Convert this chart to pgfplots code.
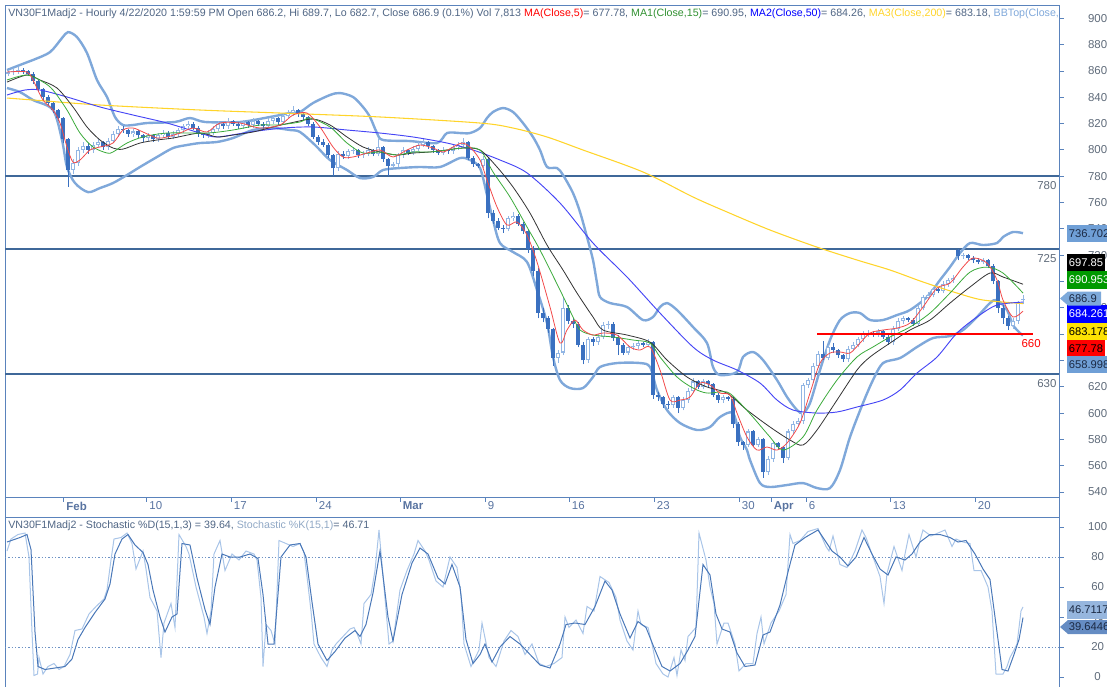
\documentclass[border=0pt]{standalone}
\usepackage{fontspec}
\setmainfont{Liberation Sans}
\usepackage{pgfplots}
\pgfplotsset{compat=1.18}
\usepackage{pgfplotstable}

\definecolor{frm}{HTML}{5A83BC}
\definecolor{hl}{HTML}{3F6899}
\definecolor{bb}{HTML}{7FA8DA}
\definecolor{dnc}{HTML}{3A70C0}
\definecolor{upc}{HTML}{92B6E4}
\definecolor{mared}{HTML}{F24B4B}
\definecolor{magreen}{HTML}{3AAA3A}
\definecolor{mablack}{HTML}{333333}
\definecolor{mablue}{HTML}{4545F5}
\definecolor{mayellow}{HTML}{FFD42A}
\definecolor{tgray}{HTML}{5F6B7A}
\definecolor{ttl}{HTML}{4F6584}
\definecolor{datec}{HTML}{5873A0}
\definecolor{stD}{HTML}{4A78B8}
\definecolor{stK}{HTML}{A9C5E8}
\definecolor{boxlb}{HTML}{6F9FD6}
\definecolor{boxtx}{HTML}{1C2A44}

\pgfplotstableread{
x o h l c
8 858 861 856 859
13 859 862 857 860
18 860 863 858 861
23 861 862 858 860
28 860 861 856 858
33 858 859 850 852
38 852 853 844 846
43 846 847 838 840
48 840 842 834 836
53 836 837 828 830
58 830 831 822 824
63 824 825 805 808
68 808 809 772 785
73 785 793 782 790
78 790 802 788 800
83 800 806 798 803
88 803 805 797 800
93 800 806 798 804
98 804 808 802 806
103 806 807 800 802
108 802 809 800 807
113 807 814 805 812
118 812 818 810 816
123 816 818 813 815
128 815 816 810 812
133 812 816 810 814
138 814 815 809 811
143 811 812 806 809
148 809 813 807 811
153 811 812 806 808
158 808 813 806 811
163 811 815 809 813
168 813 814 808 810
173 810 814 808 812
178 812 817 810 815
183 815 820 813 818
188 818 822 816 820
193 820 821 815 817
198 817 818 810 812
203 812 813 809 811
208 811 815 809 813
213 813 818 811 816
218 816 822 814 820
223 820 821 816 818
228 818 824 816 822
233 822 823 818 820
238 820 821 816 818
243 818 823 816 821
248 821 822 817 819
253 819 824 817 822
258 822 823 818 820
263 820 821 816 818
268 818 824 816 822
273 822 826 820 824
278 824 825 819 821
283 821 828 819 826
288 826 830 824 828
293 828 833 826 830
298 830 831 825 827
303 827 828 823 825
308 825 826 818 820
313 820 821 808 810
318 810 811 804 806
323 806 808 802 804
328 804 805 794 796
333 796 797 780 786
338 786 799 784 797
343 797 799 793 795
348 795 801 793 799
353 799 802 797 800
358 800 801 794 796
363 796 799 794 797
368 797 802 795 800
373 800 801 795 797
378 797 808 795 802
383 802 803 791 793
388 793 794 780 788
393 788 791 786 789
398 789 798 787 796
403 796 802 794 800
408 800 801 796 798
413 798 803 796 801
418 801 806 799 804
423 804 808 802 806
428 806 807 801 803
433 803 804 798 800
438 800 801 796 798
443 798 802 796 800
448 800 801 797 799
453 799 804 797 802
458 802 806 800 804
463 804 809 802 806
468 806 807 792 794
473 794 795 787 789
478 789 790 786 788
483 788 795 786 793
488 793 794 748 752
493 752 754 744 746
498 746 748 739 741
503 741 743 737 740
508 740 750 738 748
513 748 753 746 750
518 750 751 742 744
523 744 745 736 738
528 738 739 722 725
533 725 727 704 708
538 708 710 672 676
543 676 680 669 672
548 672 674 661 664
553 664 665 636 642
558 642 648 638 646
563 646 688 644 680
568 680 682 668 670
573 670 672 665 668
578 668 669 650 652
583 652 654 637 640
588 640 658 638 656
593 656 658 651 654
598 654 660 652 658
603 658 669 656 667
608 667 670 664 668
613 668 669 655 657
618 657 659 644 652
623 652 653 644 646
628 646 652 644 650
633 650 653 648 651
638 651 655 649 653
643 653 654 650 652
648 652 656 650 654
653 654 655 611 614
658 614 616 609 612
663 612 613 604 607
668 607 609 603 606
673 606 614 604 612
678 612 613 600 604
683 604 612 602 610
688 610 619 608 617
693 617 627 615 624
698 624 625 618 620
703 620 626 618 624
708 624 625 620 622
713 622 623 612 614
718 614 615 608 610
723 610 614 608 612
728 612 613 609 611
733 611 612 589 592
738 592 593 575 578
743 578 579 572 576
748 576 588 574 586
753 586 587 574 576
758 576 582 574 580
763 580 581 551 555
768 555 567 553 565
773 565 579 563 577
778 577 578 572 574
783 574 575 562 566
788 566 588 564 586
793 586 594 584 592
798 592 596 590 594
803 594 623 592 621
808 621 627 619 625
813 625 638 623 636
818 636 647 634 645
823 645 655 640 642
828 642 652 640 650
833 650 653 646 648
838 648 649 642 644
843 644 645 639 641
848 641 651 639 649
853 649 654 647 652
858 652 658 650 656
863 656 662 654 660
868 660 663 658 661
873 661 662 658 660
878 660 664 658 662
883 662 663 656 658
888 658 659 652 654
893 654 666 652 664
898 664 672 662 670
903 670 674 668 672
908 672 673 669 671
913 671 672 666 668
918 668 682 666 680
923 680 690 678 688
928 688 692 686 690
933 690 696 688 694
938 694 695 691 693
943 693 700 691 698
948 698 703 696 701
953 701 705 699 703
958 724 725 716 719
963 719 722 717 720
968 720 721 716 718
973 718 719 714 716
978 716 718 713 715
983 715 718 713 716
988 716 717 710 712
993 712 713 698 700
998 700 701 676 680
1003 680 682 668 672
1008 672 674 663 666
1013 666 672 664 670
1018 670 685 668 684
1023 686.2 689.7 682.7 686.9
}\candles

\pgfplotsset{
  cndl/.style={draw=none, mark=none, forget plot, restrict y to domain=0:2000,
    error bars/.cd, y dir=plus, y explicit, error mark=none},
}

\begin{document}
\begin{tikzpicture}
\path[use as bounding box] (0,0) rectangle (830.25pt,-514.5pt);

% ---------------- main price panel ----------------
\begin{axis}[
  at={(3.75pt,-3.75pt)}, anchor=north west,
  scale only axis, width=790.5pt, height=369pt,
  xmin=5, xmax=1059, ymin=536.2, ymax=910.1,
  axis line style={draw=frm, line width=0.7pt},
  tick align=outside, major tick length=3.5pt,
  ytick={540,560,...,900}, ytick pos=right,
  y tick style={draw=frm, line width=0.6pt},
  yticklabel style={font=\fontsize{8.6}{10}\selectfont, text=tgray, anchor=center, xshift=25.5pt},
  xtick={63.5,146.5,231,316,400,485,569,654,739,771,806,890,975},
  xticklabels={\textbf{Feb},10,17,24,\textbf{Mar},9,16,23,30,\textbf{Apr},6,13,20},
  xtick pos=bottom,
  x tick style={draw=frm, line width=0.6pt},
  xticklabel style={font=\fontsize{8.6}{10}\selectfont, text=datec, anchor=north west, inner sep=0pt, xshift=2pt, yshift=0pt},
  /pgf/number format/assume math mode=true,
  /pgf/number format/1000 sep={},
]
% horizontal reference lines
\addplot[hl, line width=1.5pt, forget plot] coordinates {(5,780) (1059,780)};
\addplot[hl, line width=1.5pt, forget plot] coordinates {(5,725) (1059,725)};
\addplot[hl, line width=1.5pt, forget plot] coordinates {(5,630) (1059,630)};

% Bollinger bands
\addplot[bb, line width=1.8pt, smooth, tension=0.5] coordinates {
(7,860.7)(25,866.0)(33,868.3)(50,874.3)(62,885.0)(68,889.5)(77,885.7)(87,873.6)(97,853.1)(107,840.2)(115,825.0)(123,818.9)(133,818.9)(147,820.4)(175,821.2)(190,824.2)(205,821.2)(240,821.2)(270,825.0)(290,828.0)(300,828.8)(313,835.6)(330,841.7)(340,843.2)(353,840.2)(363,832.6)(370,825.0)(377,812.8)(383,807.5)(410,806.7)(437,805.2)(447,812.8)(460,812.8)(470,812.8)(480,816.6)(487,824.2)(493,828.8)(503,831.8)(513,828.8)(523,820.4)(533,809.8)(540,799.9)(547,787.0)(557,786.2)(563,780.9)(573,767.2)(580,752.8)(587,733.8)(593,716.3)(597,698.8)(600,688.2)(610,683.6)(627,680.6)(643,670.7)(653,673.0)(660,680.6)(667,683.6)(677,678.3)(693,665.4)(707,653.2)(713,635.0)(720,628.9)(737,631.2)(743,642.6)(753,646.4)(763,640.3)(777,625.1)(787,612.2)(797,602.3)(803,600.0)(810,607.6)(820,632.7)(830,655.5)(840,670.7)(850,676.0)(860,676.0)(870,670.7)(883,670.7)(897,674.5)(910,678.3)(927,688.2)(940,701.1)(950,711.0)(960,721.6)(970,729.2)(983,727.7)(997,729.2)(1003,733.8)(1013,737.6)(1023,736.7)};
\addplot[bb, line width=1.8pt, smooth, tension=0.5] coordinates {
(7,847.0)(20,843.9)(33,837.9)(53,830.3)(62,807.5)(67,787.0)(75,774.8)(88,767.9)(100,771.0)(113,774.8)(127,780.9)(140,787.0)(157,794.6)(173,801.4)(187,803.7)(200,805.2)(217,806.0)(233,809.0)(253,815.1)(273,816.6)(290,815.1)(300,813.6)(315,803.7)(330,792.3)(347,784.7)(360,778.6)(373,779.4)(383,784.7)(400,786.2)(420,787.0)(440,787.0)(460,793.8)(470,792.3)(480,786.2)(487,765.7)(493,746.7)(500,729.2)(513,722.4)(527,714.8)(537,693.5)(547,668.4)(553,642.6)(560,625.1)(570,619.0)(583,619.0)(593,627.4)(600,635.0)(617,638.0)(640,638.0)(650,635.0)(657,617.5)(667,602.3)(680,592.4)(697,587.1)(710,589.4)(720,597.0)(733,600.0)(740,581.8)(747,571.9)(750,564.3)(760,546.8)(770,543.8)(787,545.3)(803,546.8)(817,543.0)(830,543.0)(840,556.7)(850,581.8)(863,607.6)(873,625.1)(883,638.0)(900,641.8)(917,650.2)(933,657.0)(950,658.5)(963,663.1)(977,673.0)(990,683.6)(997,685.9)(1007,678.3)(1013,666.9)(1020,660.8)(1023,659.0)};

% candlesticks: wicks, bodies, hollow centres
\addplot[cndl, error bar style={line width=0.75pt, draw=dnc}] table[x=x, y expr={\thisrow{l}+(\thisrow{c}<\thisrow{o}?0:5000)}, y error plus expr={\thisrow{h}-\thisrow{l}}] {\candles};
\addplot[cndl, error bar style={line width=0.75pt, draw=upc}] table[x=x, y expr={\thisrow{l}+(\thisrow{c}<\thisrow{o}?5000:0)}, y error plus expr={\thisrow{h}-\thisrow{l}}] {\candles};
\addplot[cndl, error bar style={line width=2.4pt, draw=dnc}] table[x=x, y expr={\thisrow{c}+(\thisrow{c}<\thisrow{o}?0:5000)}, y error plus expr={\thisrow{o}-\thisrow{c}}] {\candles};
\addplot[cndl, error bar style={line width=2.4pt, draw=upc}] table[x=x, y expr={\thisrow{o}+(\thisrow{c}<\thisrow{o}?5000:0)}, y error plus expr={\thisrow{c}-\thisrow{o}}] {\candles};
\addplot[cndl, error bar style={line width=0.9pt, draw=white}] table[x=x, y expr={\thisrow{o}+0.8+(\thisrow{c}<\thisrow{o}?5000:0)}, y error plus expr={max(\thisrow{c}-\thisrow{o}-1.6,0)}] {\candles};

% MA200
\addplot[mayellow, line width=0.8pt, smooth] coordinates {
(7,839.4)(33,837.9)(100,834.1)(200,830.3)(280,828.0)(380,825.0)(480,820.4)(513,816.6)(547,809.8)(583,799.9)(643,783.2)(693,764.2)(727,752.8)(770,739.1)(817,726.1)(857,716.3)(890,708.7)(923,699.6)(957,691.2)(983,685.9)(1023,683.2)};
% MA50
\addplot[mablue, line width=0.7pt, smooth] coordinates {
(7,841.7)(25,845.5)(40,845.5)(67,840.2)(100,832.6)(133,826.5)(167,820.4)(200,812.8)(217,809.8)(250,813.6)(283,816.6)(313,817.4)(347,815.1)(380,812.8)(413,809.8)(447,805.2)(473,799.9)(500,792.3)(527,782.5)(560,759.6)(593,729.2)(627,703.4)(660,676.0)(693,650.2)(713,640.3)(737,632.7)(760,622.8)(777,609.9)(793,602.3)(817,600.0)(837,600.8)(857,604.6)(883,609.9)(900,617.5)(917,630.4)(937,642.6)(957,660.8)(977,673.0)(997,682.1)(1023,684.3)};
% black (20)
\addplot[mablack, line width=0.6pt, smooth] coordinates {
(7,851.5)(27,856.9)(40,853.1)(57,847.0)(73,832.6)(87,817.4)(100,807.5)(113,801.4)(123,800.6)(140,805.2)(157,807.5)(173,809.0)(200,812.8)(217,809.8)(233,811.3)(253,813.6)(273,817.4)(290,820.4)(313,823.4)(330,818.9)(347,809.8)(363,802.2)(380,798.4)(397,796.1)(413,797.6)(430,798.4)(447,799.9)(463,801.4)(480,799.9)(497,787.0)(513,771.8)(530,752.0)(547,727.7)(563,708.7)(577,691.2)(593,673.0)(603,663.1)(627,659.3)(650,653.9)(667,640.3)(687,627.4)(707,619.8)(727,615.2)(747,602.3)(770,589.4)(790,579.5)(803,575.7)(817,587.1)(837,609.9)(857,632.7)(870,642.6)(890,653.2)(910,663.1)(930,670.7)(950,683.6)(970,695.8)(990,706.4)(1003,703.4)(1023,697.9)};
% MA15 green
\addplot[magreen, line width=0.6pt, smooth] coordinates {
(7,853.1)(27,856.9)(43,851.6)(53,845.5)(67,830.3)(80,812.8)(93,802.2)(107,797.6)(113,798.4)(127,805.2)(143,809.8)(167,812.8)(207,812.8)(233,815.1)(260,818.9)(277,818.9)(300,821.2)(310,824.2)(330,817.4)(347,805.2)(363,797.6)(380,798.4)(397,796.1)(413,798.4)(430,798.4)(447,799.9)(463,801.4)(480,799.9)(493,783.2)(510,764.2)(527,741.4)(540,723.9)(560,693.5)(573,673.0)(580,663.1)(593,659.3)(613,657.8)(633,655.5)(650,653.2)(660,642.6)(677,627.4)(693,619.0)(707,615.2)(727,616.0)(740,607.6)(753,596.9)(770,581.8)(783,571.9)(803,581.8)(817,602.3)(837,625.1)(857,642.6)(873,650.2)(890,657.8)(910,665.4)(930,676.0)(950,691.2)(970,707.1)(987,710.9)(1003,706.4)(1023,691.2)};
% MA5 red
\addplot[mared, line width=0.6pt, smooth] coordinates {
(7,859.2)(27,859.2)(33,853.1)(43,837.9)(53,830.3)(60,820.4)(67,802.2)(73,790.7)(80,792.3)(90,799.9)(100,802.2)(113,805.2)(123,815.1)(133,816.6)(143,813.6)(157,809.0)(167,809.8)(180,812.8)(193,816.6)(207,813.6)(220,820.4)(240,820.4)(260,816.6)(280,818.9)(293,826.5)(307,828.0)(320,817.4)(333,802.2)(343,794.6)(353,794.6)(367,797.6)(380,799.9)(393,794.6)(407,799.9)(420,803.7)(433,801.4)(443,798.4)(453,802.2)(462,805.2)(470,802.2)(480,792.3)(487,777.1)(497,756.6)(507,742.9)(517,745.2)(527,735.3)(537,714.8)(550,680.6)(560,653.2)(567,663.1)(575,670.7)(583,663.1)(593,659.3)(603,660.8)(617,659.3)(630,650.2)(640,647.9)(650,650.2)(660,632.7)(670,609.9)(680,609.9)(690,612.2)(700,622.8)(710,621.3)(720,615.2)(730,613.7)(737,600.0)(747,581.8)(757,571.9)(767,574.2)(777,571.9)(787,577.2)(800,592.4)(810,615.2)(820,638.0)(830,645.6)(840,646.4)(850,645.6)(860,653.2)(870,660.8)(883,663.1)(897,664.6)(910,668.4)(923,680.6)(937,695.0)(950,698.8)(963,711.0)(973,717.8)(987,714.0)(997,701.1)(1003,685.9)(1013,673.0)(1023,677.5)};

% support line 660
\addplot[red, line width=1.4pt] coordinates {(817,660) (1033,660)};

\node[anchor=north east, inner sep=1pt, font=\fontsize{8.6}{10}\selectfont, text=tgray] at (axis cs:1058,777) {780};
\node[anchor=north east, inner sep=1pt, font=\fontsize{8.6}{10}\selectfont, text=tgray] at (axis cs:1058,722) {725};
\node[anchor=north east, inner sep=1pt, font=\fontsize{8.6}{10}\selectfont, text=tgray] at (axis cs:1058,627) {630};
\node[anchor=north west, inner sep=1pt, font=\fontsize{8.6}{10}\selectfont, text=red] at (axis cs:1020,657) {660};
\end{axis}

% ---------------- stochastic panel ----------------
\begin{axis}[
  at={(3.75pt,-387.75pt)}, anchor=north west,
  scale only axis, width=790.5pt, height=129.75pt,
  xmin=5, xmax=1059, ymin=-8.67, ymax=106.67,
  axis line style={draw=frm, line width=0.7pt},
  tick align=outside, major tick length=3.5pt,
  xtick=\empty,
  ytick={0,20,...,100}, ytick pos=right,
  y tick style={draw=frm, line width=0.6pt},
  yticklabel style={font=\fontsize{8.6}{10}\selectfont, text=tgray, anchor=center, xshift=25.5pt},
  /pgf/number format/assume math mode=true,
]
\addplot[stD!80, line width=0.6pt, dash pattern=on 1pt off 1.5pt] coordinates {(5,80) (1059,80)};
\addplot[stD!80, line width=0.6pt, dash pattern=on 1pt off 1.5pt] coordinates {(5,20) (1059,20)};
% %K
\addplot[stK, line width=0.75pt] coordinates {
(7,84)(11,92)(18,95)(25,96)(29,80)(32,30)(34,1)(37.5,2)(39,13)(43,2)(48,7)(54,9)(59,5)(64,7)(70,15)(75,31)(82,32)(89,42)(96,47)(104,52)(107,58)(111,78)(114,92)(121,93)(127,96)(132,89)(136,72)(143,84)(146,72)(150,53)(157,44)(161,13)(164,36)(171,49)(175,33)(179,95)(186,87)(189,82)(196,60)(204,40)(207,29)(211,44)(214,82)(220,91)(225,71)(232,82)(239,78)(246,84)(254,82)(257,78)(261,53)(263,7)(266,35)(271,31)(275,22)(279,91)(286,89)(293,87)(300,89)(304,83)(307,67)(311,44)(314,22)(321,13)(327,7)(332,18)(336,22)(343,27)(350,32)(354,33)(357,29)(361,22)(364,49)(371,55)(375,71)(379,98)(384,60)(389,22)(393,24)(400,58)(407,71)(414,82)(418,91)(425,84)(429,78)(436,64)(443,60)(450,80)(457,73)(461,55)(464,22)(471,7)(479,18)(482,36)(489,13)(496,7)(504,24)(511,31)(518,27)(525,15)(532,22)(539,9)(546,7)(554,9)(562,13)(565,40)(569,33)(576,38)(583,29)(587,47)(594,44)(600,67)(609,63)(616,53)(620,38)(627,24)(633,18)(638,44)(641,35)(648,33)(652,22)(656,9)(663,2)(668,0)(674,13)(677,1)(681,18)(685,11)(688,27)(696,33)(699,96)(706,78)(710,60)(714,49)(717,22)(724,36)(728,36)(735,22)(739,4)(746,9)(753,9)(757,29)(761,40)(764,22)(771,36)(779,44)(786,55)(790,95)(793,89)(800,91)(808,97)(818,99)(826,87)(829,84)(833,94)(840,75)(847,73)(855,84)(862,98)(866,93)(873,80)(880,67)(884,49)(887,69)(894,87)(902,71)(905,82)(909,95)(916,80)(920,91)(923,98)(931,94)(938,96)(945,98)(952,87)(956,92)(963,90)(970,89)(974,71)(981,71)(988,60)(992,44)(996,2)(1003,2)(1007,7)(1010,13)(1014,18)(1017,22)(1021,44)(1023,46.71)};
% %D
\addplot[stD, line width=0.75pt] coordinates {
(7,90)(20,93)(27,95)(31,85)(35,30)(38,7)(45,5)(55,6)(65,7)(72,12)(78,25)(85,33)(95,43)(105,52)(110,62)(115,82)(122,92)(128,95)(135,88)(143,83)(148,75)(153,58)(160,40)(165,30)(172,40)(177,42)(182,89)(190,88)(197,66)(205,45)(210,35)(215,60)(222,82)(230,80)(240,80)(250,82)(258,79)(263,55)(268,22)(274,22)(281,80)(290,88)(300,89)(306,80)(312,50)(318,22)(327,11)(335,17)(345,26)(355,31)(360,27)(366,35)(373,56)(380,84)(388,40)(393,24)(402,55)(412,76)(420,86)(428,82)(438,66)(445,62)(452,75)(460,60)(466,25)(473,9)(480,15)(485,22)(492,10)(500,20)(510,27)(520,22)(530,15)(540,8)(550,6)(560,22)(566,35)(575,36)(585,35)(595,47)(605,64)(612,58)(620,42)(630,26)(638,37)(646,33)(655,18)(662,7)(670,4)(680,9)(688,18)(695,27)(703,75)(710,68)(716,42)(722,32)(730,30)(737,16)(745,7)(755,8)(763,28)(770,30)(780,48)(788,70)(795,88)(805,93)(818,98)(826,90)(832,84)(840,80)(848,74)(856,80)(864,93)(872,82)(880,72)(888,68)(896,80)(905,78)(912,82)(920,90)(930,95)(940,95)(950,93)(958,90)(966,91)(975,82)(983,72)(990,65)(995,40)(1002,5)(1008,4)(1014,15)(1019,25)(1023,39.64)};
\end{axis}

% ---------------- texts and value boxes (pixel grid) ----------------
\begin{scope}[x=0.75pt, y=-0.75pt]
\draw[frm, line width=0.7pt] (5,497) -- (5,517);
\draw[frm, line width=0.7pt] (1059,497) -- (1059,517);
\begin{scope}
\clip (5,5) rectangle (1058,497);
\node[anchor=west, inner sep=0pt, font=\fontsize{8}{9.6}\selectfont] at (8,14) {%
{\color{ttl}VN30F1Madj2 - Hourly 4/22/2020 1:59:59 PM Open 686.2, Hi 689.7, Lo 682.7, Close 686.9 (0.1\%) Vol 7,813 }%
{\color{red}MA(Close,5)}{\color{ttl} = 677.78, }%
{\color{magreen!85!black}MA1(Close,15)}{\color{ttl} = 690.95, }%
{\color{blue}MA2(Close,50)}{\color{ttl} = 684.26, }%
{\color{mayellow}MA3(Close,200)}{\color{ttl} = 683.18, }%
{\color{bb}BBTop(Close,20,2) = 736.70}};
\end{scope}
\node[anchor=west, inner sep=0pt, font=\fontsize{8}{9.6}\selectfont] at (8,526) {%
{\color{ttl}VN30F1Madj2 - Stochastic \%D(15,1,3) = 39.64, }{\color{stK!85!black}Stochastic \%K(15,1)}{\color{ttl} = 46.71}};

\tikzset{vbox/.style={anchor=west, inner xsep=1.2pt, inner ysep=0pt, minimum height=13, font=\fontsize{8.4}{10}\selectfont}}
\node[vbox, fill=boxlb, text=boxtx] at (1067,233.5) {736.702};
\node[vbox, fill=black, text=white] at (1067,263) {697.85};
\node[vbox, fill=green!60!black, text=white] at (1067,280) {690.953};
\node[vbox, fill=blue, text=white] at (1067,314) {684.261};
\node[vbox, fill=yellow!85!orange, text=black] at (1067,331.5) {683.178};
\node[vbox, fill=red, text=black] at (1067,349) {677.78};
\node[vbox, fill=boxlb, text=boxtx] at (1067,364.5) {658.998};
\fill[boxlb!90] (1060,298.5) -- (1068,291.5) -- (1101,291.5) -- (1101,305.5) -- (1068,305.5) -- cycle;
\node[anchor=west, inner sep=0pt, font=\fontsize{8.4}{10}\selectfont, text=boxtx] at (1068.5,298.5) {686.9};

\node[vbox, fill=stK!80!stD, text=boxtx] at (1067,610) {46.7117};
\fill[stD!85] (1060,627) -- (1068,620) -- (1107,620) -- (1107,634) -- (1068,634) -- cycle;
\node[anchor=west, inner sep=0pt, font=\fontsize{8.4}{10}\selectfont, text=boxtx] at (1068.5,627) {39.6446};
\end{scope}
\end{tikzpicture}
\end{document}
